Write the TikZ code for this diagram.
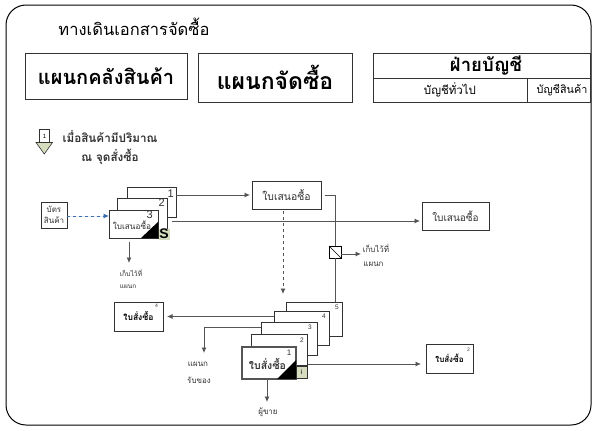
\documentclass[tikz,border=0pt]{standalone}
\usepackage{fontspec}
\setmainfont[Script=Thai]{Loma}
\setsansfont{Liberation Sans}
\usetikzlibrary{arrows.meta}
\definecolor{linegray}{RGB}{85,85,85}
\definecolor{boxedge}{RGB}{50,50,50}
\definecolor{paleg}{RGB}{214,220,190}
\definecolor{flowblue}{RGB}{60,110,175}
\tikzset{
  x=1pt,y=-1pt,
  box/.style={draw=boxedge,line width=0.9pt,fill=white,inner sep=0pt,outer sep=0pt,align=center},
  head/.style={box,line width=1pt},
  conn/.style={draw=linegray,line width=0.8pt},
  arr/.style={conn,-{Latex[length=5.5pt,width=5pt]}},
  num/.style={font=\sffamily\fontsize{#1}{#1}\selectfont,text=boxedge,inner sep=0pt},
  lab/.style={font=\fontsize{#1}{#1}\selectfont,text=boxedge,inner sep=0pt,align=center},
  tag/.style={fill=paleg,inner sep=0pt,outer sep=0pt}
}
\begin{document}
\begin{tikzpicture}
\useasboundingbox (0,0) rectangle (597,431);
\fill[white] (0,0) rectangle (597,431);
\draw[black,line width=1pt,rounded corners=20pt] (6,5) rectangle (591,425);
% title and headers
\node[lab=16.5,text=black] (title) at (134,27) {ทางเดินเอกสารจัดซื้อ};
\node[head,minimum width=162pt,minimum height=46pt,font=\bfseries\fontsize{20}{20}\selectfont] (wh) at (106,76) {แผนกคลังสินค้า};
\node[head,minimum width=154pt,minimum height=49pt,font=\bfseries\fontsize{23}{23}\selectfont] (pu) at (275,77.5) {แผนกจัดซื้อ};
\node[head,minimum width=217pt,minimum height=25pt,font=\bfseries\fontsize{18.5}{18.5}\selectfont] (ac) at (481.5,65.5) {\hspace*{9pt}ฝ่ายบัญชี};
\node[head,minimum width=154pt,minimum height=24pt,font=\fontsize{11.5}{11.5}\selectfont] (gl) at (450,90) {บัญชีทั่วไป};
\node[head,minimum width=63pt,minimum height=24pt,font=\fontsize{10.8}{10.8}\selectfont] (il) at (558.5,90) {\hspace*{7pt}บัญชีสินค้า};
% legend
\node[draw=boxedge,line width=0.6pt,fill=white,minimum width=10pt,minimum height=13pt,inner sep=0pt,font=\sffamily\fontsize{6}{6}\selectfont] (leg) at (44.5,136) {1};
\path[draw=boxedge,line width=0.6pt,fill=paleg] (36,142.5) -- (52.5,142.5) -- (44.3,154) -- cycle;
\node[lab=11.7] (l1) at (110,137) {\bfseries เมื่อสินค้ามีปริมาณ};
\node[lab=11.7] (l2) at (110,157) {\bfseries ณ จุดสั่งซื้อ};
% stock card
\node[box,minimum width=26pt,minimum height=26pt,lab=8,text=boxedge] (card) at (54,215) {บัตร\\[3pt]สินค้า};
% quotation stack
\node[box,minimum width=49pt,minimum height=30pt] (qa) at (151.5,202) {};
\node[num=11,anchor=north east] at (174,190) {1};
\node[box,minimum width=50pt,minimum height=32pt] (qb) at (142,214) {};
\node[num=11,anchor=north east] at (165,199) {2};
\node[box,minimum width=49pt,minimum height=28pt] (qc) at (133.5,224) {};
\fill[black] (141,238) -- (158,238) -- (158,222) -- cycle;
\node[lab=8.2] (qct) at (132,225) {ใบเสนอซื้อ};
\node[num=11,anchor=north east] at (153,211) {3};
\node[tag,minimum width=11pt,minimum height=11pt,font=\sffamily\bfseries\fontsize{14}{14}\selectfont,text=black] (qs) at (164,234) {S};
% quotation copies
\node[box,minimum width=69pt,minimum height=28pt,lab=10.4] (qm) at (286.5,195) {ใบเสนอซื้อ};
\node[box,minimum width=67pt,minimum height=28pt,lab=10] (qr) at (455.5,216) {ใบเสนอซื้อ};
% file marker
\node[draw=black,line width=0.9pt,fill=white,minimum width=12pt,minimum height=12pt,inner sep=0pt,outer sep=0pt] (fm) at (335,252) {};
\draw[black,line width=0.7pt] (fm.north west) -- (fm.south east);
% purchase order stack
\node[box,minimum width=56pt,minimum height=34pt] (p5) at (314,319) {};
\node[num=6.5,anchor=north east] at (339,305) {5};
\node[box,minimum width=55pt,minimum height=34pt] (p4) at (301.5,328) {};
\node[num=6.5,anchor=north east] at (326,314) {4};
\node[box,minimum width=56pt,minimum height=33pt] (p3) at (289,338.5) {};
\node[num=6.5,anchor=north east] at (312,325) {3};
\node[box,minimum width=56pt,minimum height=31pt] (p2) at (279,350) {};
\node[num=6.5,anchor=north east] at (304,338) {2};
\node[draw=linegray,fill=white,line width=1.2pt,inner sep=0pt,outer sep=0pt,minimum width=54pt,minimum height=32pt] (p1) at (269,363) {};
\fill[black] (277,379) -- (296,379) -- (296,360) -- cycle;
\node[lab=10.5] (p1t) at (267.5,364) {\bfseries ใบสั่งซื้อ};
\node[num=8,anchor=north east] at (291.5,350) {1};
\node[tag,draw=boxedge,line width=0.5pt,minimum width=11pt,minimum height=12pt,font=\sffamily\fontsize{7}{7}\selectfont] (pi) at (301.5,372) {i};
% order copies
\node[box,minimum width=49pt,minimum height=29pt,font=\bfseries\fontsize{8.5}{8.5}\selectfont] (po4) at (138.5,316.5) {ใบสั่งซื้อ};
\node[num=5,anchor=north east] at (158,304) {4};
\node[box,minimum width=47pt,minimum height=29pt,font=\bfseries\fontsize{8}{8}\selectfont] (po2) at (449.5,358.5) {ใบสั่งซื้อ};
\node[num=5,anchor=north east] at (470,348) {2};
% labels
\node[lab=6.8] (fa) at (131,273) {เก็บไว้ที่};
\node[lab=6.5] (fb) at (128,287) {แผนก};
\node[lab=8] (fc) at (376,248) {เก็บไว้ที่};
\node[lab=8] (fd) at (373.5,264) {แผนก};
\node[lab=8] (ra) at (198,364) {แผนก};
\node[lab=8] (rb) at (199,380) {รับของ};
\node[lab=8] (ve) at (268,412) {ผู้ขาย};
% connectors
\coordinate (cs) at (67,216);
\draw[arr,dashed,draw=flowblue,fill=flowblue] (cs) -- (qc.west |- cs);
\coordinate (qcs) at (172,221);
\draw[arr] (qa.east |- qm.west) -- ([xshift=-2pt]qm.west);
\draw[arr] (qcs) -- ([xshift=-2pt]qr.west |- qcs);
\coordinate (qbot) at (129,242);
\coordinate (qbot2) at (129,263);
\draw[arr] (qbot) -- (qbot2);
\coordinate (mr) at (324.5,195);
\draw[conn] (mr) -- (335,195) -- (fm.north);
\draw[conn] (fm.south) -- (p5.north -| fm.south);
\coordinate (fe) at (361,254);
\draw[arr] (fm.east |- fe) -- (fe);
\coordinate (qdown) at (283,211);
\coordinate (qdown2) at (283,294);
\draw[arr,dashed] (qdown) -- (qdown2);
\draw[arr] (p4.west |- po4.east) -- ([xshift=4pt]po4.east);
\coordinate (rr) at (204,327);
\coordinate (rs) at (204,353);
\draw[arr] (p3.west |- rr) -- (rr) -- (rs);
\coordinate (vs) at (267,379);
\coordinate (ve2) at (267,402);
\draw[arr] (vs) -- (ve2);
\coordinate (pos) at (308,364);
\draw[arr] (pos) -- ([xshift=-5pt]po2.west |- pos);
\end{tikzpicture}
\end{document}
